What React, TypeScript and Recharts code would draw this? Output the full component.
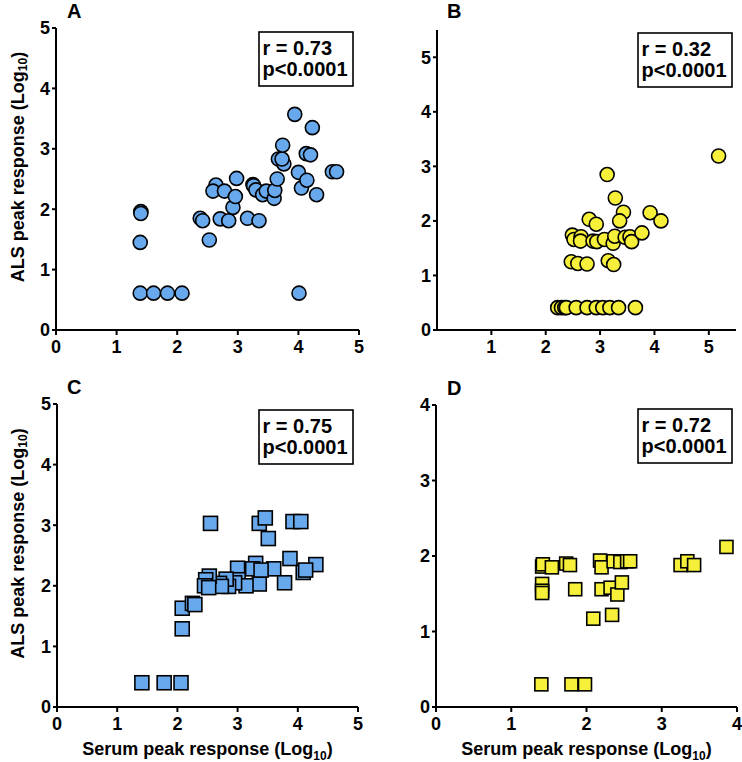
import React from "react"
import { ScatterChart, Scatter, XAxis, YAxis } from "recharts"

// Panel A: serum vs ALS peak response (circles)
const aX = [1.4, 1.4, 1.39, 1.39, 1.61, 1.84, 2.08, 2.38, 2.42, 2.53, 2.64, 2.59, 2.71, 2.78, 2.85, 2.92, 2.96, 2.98, 3.16, 3.25, 3.26, 3.3, 3.35, 3.41, 3.47, 3.6, 3.61, 3.65, 3.67, 3.76, 3.73, 3.74, 3.94, 4.0, 4.01, 4.05, 4.13, 4.2, 4.14, 4.23, 4.3, 4.56, 4.63]
const aY = [1.96, 1.93, 1.45, 0.61, 0.61, 0.61, 0.61, 1.85, 1.81, 1.49, 2.4, 2.3, 1.84, 2.3, 1.81, 2.03, 2.21, 2.51, 1.85, 2.41, 2.39, 2.32, 1.81, 2.24, 2.3, 2.18, 2.31, 2.5, 2.83, 2.75, 2.83, 3.06, 3.57, 2.61, 0.61, 2.35, 2.92, 2.9, 2.48, 3.35, 2.24, 2.62, 2.62]

// Panel B
const bX = [5.18, 3.13, 3.28, 3.43, 3.36, 3.92, 4.12, 2.8, 2.93, 2.49, 2.52, 2.65, 2.64, 2.87, 2.94, 3.08, 3.24, 3.27, 3.46, 3.55, 3.58, 3.77, 2.47, 2.59, 2.76, 3.15, 3.25, 2.22, 2.29, 2.35, 2.38, 2.56, 2.76, 2.93, 3.05, 3.18, 3.34, 3.65]
const bY = [3.19, 2.85, 2.42, 2.16, 2.0, 2.15, 2.0, 2.03, 1.94, 1.74, 1.66, 1.71, 1.63, 1.63, 1.62, 1.66, 1.59, 1.72, 1.7, 1.71, 1.62, 1.78, 1.25, 1.22, 1.21, 1.27, 1.2, 0.41, 0.41, 0.41, 0.41, 0.41, 0.41, 0.41, 0.41, 0.41, 0.41, 0.41]

// Panel C (squares)
const cX = [2.55, 3.36, 3.46, 3.51, 3.92, 4.05, 3.87, 4.3, 4.09, 4.13, 3.6, 3.78, 3.36, 3.3, 3.25, 3.39, 3.0, 3.01, 3.14, 2.95, 2.85, 2.81, 2.7, 2.73, 2.53, 2.47, 2.45, 2.52, 2.08, 2.25, 2.29, 2.08, 1.41, 1.78, 2.06]
const cY = [3.03, 3.03, 3.12, 2.78, 3.06, 3.06, 2.45, 2.35, 2.22, 2.26, 2.28, 2.05, 2.03, 2.37, 2.28, 2.26, 2.29, 2.1, 2.0, 2.05, 1.99, 2.11, 2.04, 1.99, 2.16, 2.1, 2.0, 1.97, 1.63, 1.71, 1.69, 1.29, 0.4, 0.4, 0.4]

// Panel D
const dX = [3.86, 1.41, 1.42, 1.54, 1.73, 1.78, 2.18, 2.2, 2.36, 2.45, 2.54, 2.58, 3.25, 3.34, 3.43, 1.41, 1.41, 1.41, 1.85, 2.2, 2.32, 2.41, 2.47, 2.09, 2.34, 1.4, 1.8, 1.98]
const dY = [2.12, 1.86, 1.89, 1.85, 1.9, 1.88, 1.94, 1.85, 1.93, 1.92, 1.93, 1.93, 1.88, 1.93, 1.88, 1.63, 1.54, 1.51, 1.56, 1.56, 1.58, 1.49, 1.65, 1.17, 1.22, 0.3, 0.3, 0.3]

const stats = [
  { letter: "A", r: "r = 0.73", p: "p<0.0001" },
  { letter: "B", r: "r = 0.32", p: "p<0.0001" },
  { letter: "C", r: "r = 0.75", p: "p<0.0001" },
  { letter: "D", r: "r = 0.72", p: "p<0.0001" },
]

const BLUE = "#68a9ee"
const YELLOW = "#f6f03a"
const FONT = "'Liberation Sans', Arial, sans-serif"

const zip = (xs: number[], ys: number[]) => xs.map((x, i) => ({ x, y: ys[i] }))

const tickStyle = { fill: "#000", fontSize: 18, fontWeight: "bold", fontFamily: FONT }
const lineStyle = { stroke: "#000", strokeWidth: 2 }

const circle = (fill: string, r: number) => (props: any) => (
  <circle cx={props.cx} cy={props.cy} r={r} fill={fill} stroke="#000" strokeWidth={1.6} />
)
const square = (fill: string, s: number) => (props: any) => (
  <rect x={props.cx - s / 2} y={props.cy - s / 2} width={s} height={s} fill={fill} stroke="#000" strokeWidth={1.6} />
)

const YLabel = (props: any) => {
  const vb = props.viewBox
  const cx = 18
  const cy = vb.y + vb.height / 2 - 12
  return (
    <text
      x={cx}
      y={cy}
      transform={`rotate(-90, ${cx}, ${cy})`}
      textAnchor="middle"
      dominantBaseline="central"
      fontFamily={FONT}
      fontWeight="bold"
      fontSize={18}
      fill="#000"
    >
      ALS peak response (Log<tspan fontSize={12} dy={5}>10</tspan>
      <tspan dy={-5}>)</tspan>
    </text>
  )
}

const XLabel = (props: any) => {
  const vb = props.viewBox
  return (
    <text
      x={vb.x + vb.width / 2}
      y={vb.y + 48}
      textAnchor="middle"
      fontFamily={FONT}
      fontWeight="bold"
      fontSize={18}
      fill="#000"
    >
      Serum peak response (Log<tspan fontSize={12} dy={5}>10</tspan>
      <tspan dy={-5}>)</tspan>
    </text>
  )
}

type PanelProps = {
  left: number
  top: number
  width: number
  height: number
  margin: { top: number; right: number; left: number; bottom: number }
  yWidth: number
  xHeight: number
  xDomain: number[]
  xTicks: number[]
  yDomain: number[]
  yTicks: number[]
  data: { x: number; y: number }[]
  shape: any
  yLabel?: boolean
  xLabel?: boolean
}

function Panel(p: PanelProps) {
  return (
    <div style={{ position: "absolute", left: p.left, top: p.top }}>
      <ScatterChart width={p.width} height={p.height} margin={p.margin}>
        <XAxis
          type="number"
          dataKey="x"
          domain={p.xDomain}
          ticks={p.xTicks}
          interval={0}
          height={p.xHeight}
          tick={tickStyle}
          tickSize={5}
          tickMargin={5}
          axisLine={lineStyle}
          tickLine={lineStyle}
          label={p.xLabel ? <XLabel /> : undefined}
        />
        <YAxis
          type="number"
          dataKey="y"
          domain={p.yDomain}
          ticks={p.yTicks}
          interval={0}
          width={p.yWidth}
          tick={tickStyle}
          tickSize={4}
          tickMargin={2}
          axisLine={lineStyle}
          tickLine={lineStyle}
          label={p.yLabel ? <YLabel /> : undefined}
        />
        <Scatter data={p.data} shape={p.shape} isAnimationActive={false} />
      </ScatterChart>
    </div>
  )
}

function StatBox({ x, y, r, p }: { x: number; y: number; r: string; p: string }) {
  return (
    <g>
      <rect x={x} y={y} width={94} height={54} fill="#fff" stroke="#000" strokeWidth={1.6} />
      <text x={x + 3.5} y={y + 23} fontFamily={FONT} fontWeight="bold" fontSize={20} fill="#000">
        {r}
      </text>
      <text x={x + 3.5} y={y + 44} fontFamily={FONT} fontWeight="bold" fontSize={20} fill="#000">
        {p}
      </text>
    </g>
  )
}

export default function App() {
  const letters = [
    [67, 18],
    [447, 18],
    [67, 394],
    [447, 395],
  ]
  const boxes = [
    [259, 32],
    [638, 33],
    [259, 410],
    [638, 409],
  ]
  return (
    <div style={{ position: "absolute", left: 0, top: 0, width: 742, height: 762, background: "#fff" }}>
      <Panel
        left={0}
        top={0}
        width={371}
        height={370}
        margin={{ top: 28, right: 12, left: 0, bottom: 0 }}
        yWidth={56}
        xHeight={40}
        xDomain={[0, 5]}
        xTicks={[0, 1, 2, 3, 4, 5]}
        yDomain={[0, 5]}
        yTicks={[0, 1, 2, 3, 4, 5]}
        data={zip(aX, aY)}
        shape={circle(BLUE, 7)}
        yLabel
      />
      <Panel
        left={371}
        top={0}
        width={371}
        height={370}
        margin={{ top: 30, right: 6, left: 0, bottom: 0 }}
        yWidth={66}
        xHeight={40}
        xDomain={[0, 5.5]}
        xTicks={[1, 2, 3, 4, 5]}
        yDomain={[0, 5.5]}
        yTicks={[0, 1, 2, 3, 4, 5]}
        data={zip(bX, bY)}
        shape={circle(YELLOW, 7)}
      />
      <Panel
        left={0}
        top={370}
        width={371}
        height={392}
        margin={{ top: 34, right: 13, left: 0, bottom: 0 }}
        yWidth={57}
        xHeight={55}
        xDomain={[0, 5]}
        xTicks={[0, 1, 2, 3, 4, 5]}
        yDomain={[0, 5]}
        yTicks={[0, 1, 2, 3, 4, 5]}
        data={zip(cX, cY)}
        shape={square(BLUE, 14)}
        yLabel
        xLabel
      />
      <Panel
        left={371}
        top={370}
        width={371}
        height={392}
        margin={{ top: 35, right: 5, left: 0, bottom: 0 }}
        yWidth={65}
        xHeight={55}
        xDomain={[0, 4]}
        xTicks={[0, 1, 2, 3, 4]}
        yDomain={[0, 4]}
        yTicks={[0, 1, 2, 3, 4]}
        data={zip(dX, dY)}
        shape={square(YELLOW, 13)}
        xLabel
      />
      <svg width={742} height={762} style={{ position: "absolute", left: 0, top: 0, pointerEvents: "none" }}>
        {stats.map((s, i) => (
          <g key={s.letter}>
            <text x={letters[i][0]} y={letters[i][1]} fontFamily={FONT} fontWeight="bold" fontSize={20} fill="#000">
              {s.letter}
            </text>
            <StatBox x={boxes[i][0]} y={boxes[i][1]} r={s.r} p={s.p} />
          </g>
        ))}
      </svg>
    </div>
  )
}
